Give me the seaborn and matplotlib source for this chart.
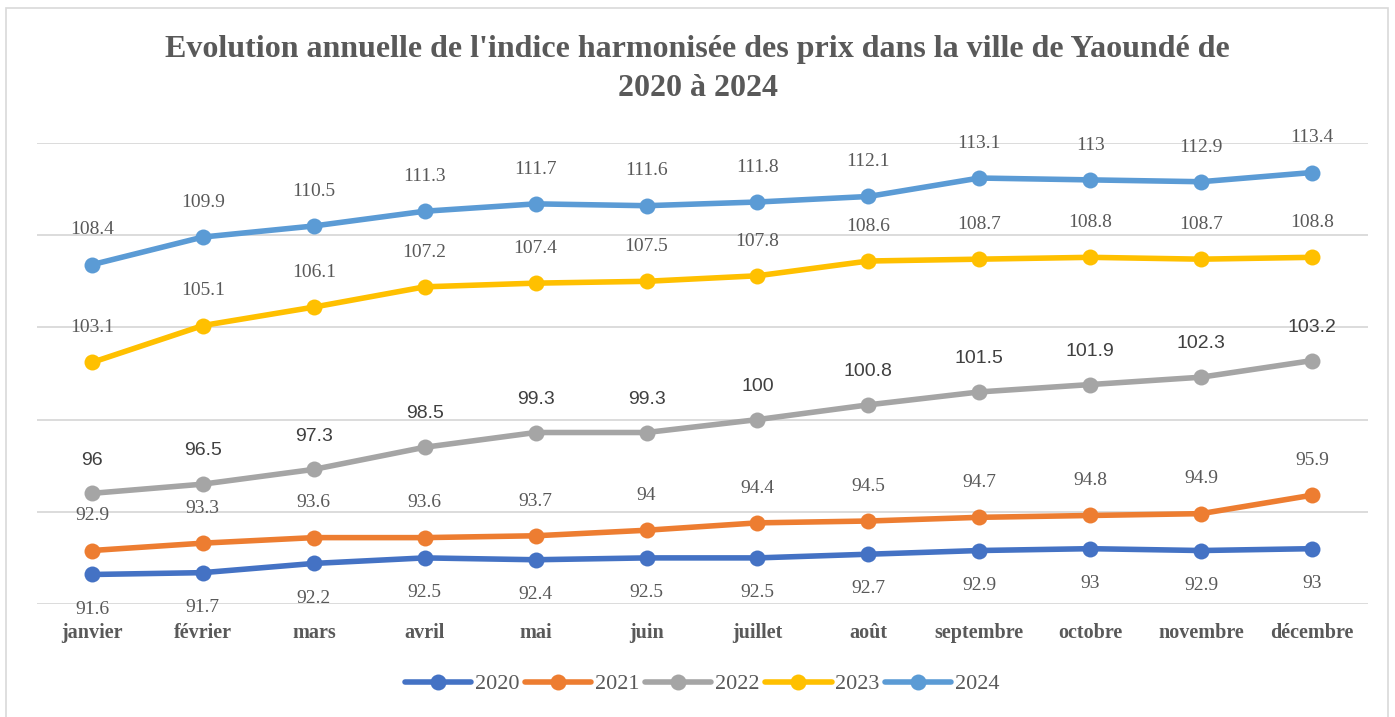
import matplotlib
matplotlib.use("Agg")
import matplotlib.pyplot as plt
import matplotlib.patches as mpatches
import pandas as pd
import seaborn as sns

months = ["janvier", "février", "mars", "avril", "mai", "juin", "juillet",
          "août", "septembre", "octobre", "novembre", "décembre"]
years = ["2020", "2021", "2022", "2023", "2024"]
ihpc_2020 = [91.6, 91.7, 92.2, 92.5, 92.4, 92.5, 92.5, 92.7, 92.9, 93, 92.9, 93]
ihpc_2021 = [92.9, 93.3, 93.6, 93.6, 93.7, 94, 94.4, 94.5, 94.7, 94.8, 94.9, 95.9]
ihpc_2022 = [96, 96.5, 97.3, 98.5, 99.3, 99.3, 100, 100.8, 101.5, 101.9, 102.3, 103.2]
ihpc_2023 = [103.1, 105.1, 106.1, 107.2, 107.4, 107.5, 107.8, 108.6, 108.7, 108.8, 108.7, 108.8]
ihpc_2024 = [108.4, 109.9, 110.5, 111.3, 111.7, 111.6, 111.8, 112.1, 113.1, 113, 112.9, 113.4]
series = [ihpc_2020, ihpc_2021, ihpc_2022, ihpc_2023, ihpc_2024]
colors = ["#4472C4", "#ED7D31", "#A5A5A5", "#FFC000", "#5B9BD5"]

df = pd.DataFrame({
    "mois": months * len(years),
    "annee": [y for y in years for _ in months],
    "indice": [v for s in series for v in s],
})

sns.set_theme(style="white")
serif = ["Liberation Serif", "DejaVu Serif"]
plt.rcParams["font.family"] = serif
gray_txt = "#595959"

fig = plt.figure(figsize=(13.95, 7.17), dpi=100)
ax = fig.add_axes([36.5 / 1395, (717 - 604) / 717, 1331 / 1395, 461 / 717])

sns.lineplot(data=df, x="mois", y="indice", hue="annee", palette=colors,
             marker="o", markersize=11.5, markeredgewidth=0, linewidth=4,
             sort=False, ax=ax, legend=True)

ax.set_xlim(-0.5, len(months) - 0.5)
ax.set_ylim(90, 115)
ax.set_yticks([90, 95, 100, 105, 110, 115])
ax.yaxis.grid(True, color="#d9d9d9", linewidth=1.3)
ax.set_axisbelow(True)
ax.tick_params(axis="y", left=False, labelleft=False)
ax.tick_params(axis="x", length=0, pad=14)
for lbl in ax.get_xticklabels():
    lbl.set_fontweight("bold")
    lbl.set_fontsize(14.5)
    lbl.set_color(gray_txt)
for sp in ax.spines.values():
    sp.set_visible(False)
ax.set_xlabel("")
ax.set_ylabel("")

# data labels: 2020 below the line, the others above
for yr, vals in zip(years, series):
    for i, v in enumerate(vals):
        txt = f"{v:g}"
        if yr == "2020":
            ax.annotate(txt, (i, v), xytext=(0, -25), textcoords="offset points",
                        ha="center", va="center", fontsize=14, color=gray_txt)
        elif yr == "2022":
            ax.annotate(txt, (i, v), xytext=(0, 24), textcoords="offset points",
                        ha="center", va="center", fontsize=14, color="#404040",
                        family=["Liberation Sans", "DejaVu Sans"])
        else:
            ax.annotate(txt, (i, v), xytext=(0, 25), textcoords="offset points",
                        ha="center", va="center", fontsize=14, color=gray_txt)

handles, labels = ax.get_legend_handles_labels()
ax.legend(handles, labels, loc="center", bbox_to_anchor=(0.5, (717 - 684 - 113) / 461),
          ncol=5, frameon=False, fontsize=16, handlelength=3.0, handletextpad=0.15,
          columnspacing=0.25, labelcolor=gray_txt)

fig.text(0.5, 1 - 69 / 717,
         "Evolution annuelle de l'indice harmonisée des prix dans la ville de Yaoundé de\n2020 à 2024",
         ha="center", va="center", fontsize=23, fontweight="bold", color=gray_txt,
         linespacing=1.45)

fig.patches.append(mpatches.Rectangle((6 / 1395, -0.01), 1382 / 1395, 1.0 - 8 / 717 + 0.01,
                                      transform=fig.transFigure, fill=False,
                                      edgecolor="#d9d9d9", linewidth=1.2))

fig.savefig("out.png", dpi=100)
